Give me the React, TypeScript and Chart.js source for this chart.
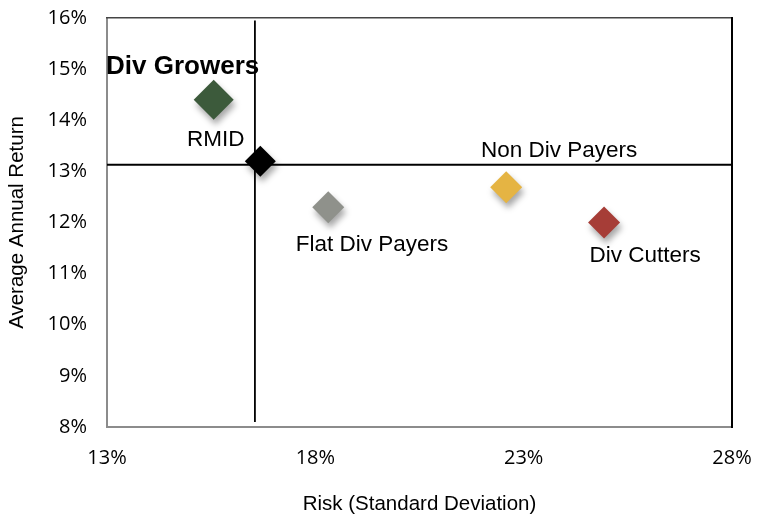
import React, { useEffect, useRef } from "react";
import { Chart, registerables } from "chart.js";

Chart.register(...registerables);

// ---- data ----
const names = ["Div Growers", "RMID", "Flat Div Payers", "Non Div Payers", "Div Cutters"];
const risk = [15.56, 16.68, 18.31, 22.58, 24.93];
const ret = [14.4, 13.2, 12.3, 12.69, 12.0];
const colors = ["#3c5a3b", "#000000", "#8f918b", "#e5b443", "#a63d37"];
const radii = [20, 15.5, 16, 16, 16];

// reference lines (RMID averages)
const vLineX = [16.55, 16.55];
const vLineY = [8.1, 15.95];
const hLineX = [13, 28];
const hLineY = [13.13, 13.13];

const xTicks = [13, 18, 23, 28];
const yTicks = [8, 9, 10, 11, 12, 13, 14, 15, 16];

// label styling (offsets relative to each point, text baseline)
const labelOffsets = [
  [-31, -26],
  [-44.5, -15],
  [43.7, 44],
  [53, -30],
  [41, 39],
];
const labelBold = [true, false, false, false, false];

const shadowPlugin = {
  id: "pointShadow",
  beforeDatasetDraw(chart: any, args: any) {
    if (args.index !== 0) return;
    const ctx = chart.ctx;
    ctx.save();
    ctx.shadowColor = "rgba(0,0,0,0.35)";
    ctx.shadowBlur = 6;
    ctx.shadowOffsetX = 2;
    ctx.shadowOffsetY = 5;
  },
  afterDatasetDraw(chart: any, args: any) {
    if (args.index !== 0) return;
    chart.ctx.restore();
  },
};

const labelPlugin = {
  id: "pointLabels",
  afterDatasetsDraw(chart: any) {
    const meta = chart.getDatasetMeta(0);
    const ctx = chart.ctx;
    ctx.save();
    ctx.fillStyle = "#000";
    ctx.textAlign = "center";
    ctx.textBaseline = "alphabetic";
    meta.data.forEach((el: any, i: number) => {
      ctx.font = labelBold[i]
        ? "bold 26px 'Liberation Sans', Arial, sans-serif"
        : "22.5px 'Liberation Sans', Arial, sans-serif";
      ctx.fillText(names[i], el.x + labelOffsets[i][0], el.y + labelOffsets[i][1]);
    });
    ctx.restore();
  },
};

export default function App() {
  const ref = useRef<HTMLCanvasElement | null>(null);
  useEffect(() => {
    document.body.style.margin = "0";
    const canvas = ref.current!;
    const tickFont = { family: "'Open Sans', sans-serif", size: 20 };
    const titleFont = { family: "'Liberation Sans', Arial, sans-serif", size: 20.5 };
    const chart = new Chart(canvas, {
      type: "scatter",
      data: {
        datasets: [
          {
            label: "points",
            data: risk.map((x, i) => ({ x, y: ret[i] })),
            backgroundColor: colors,
            borderColor: colors,
            borderWidth: 0,
            pointStyle: "rectRot",
            pointRadius: radii,
            pointHoverRadius: radii,
            order: 0,
            clip: false,
          } as any,
          {
            label: "vline",
            data: vLineX.map((x, i) => ({ x, y: vLineY[i] })),
            showLine: true,
            borderColor: "#000",
            borderWidth: 1.8,
            pointRadius: 0,
            order: 1,
          },
          {
            label: "hline",
            data: hLineX.map((x, i) => ({ x, y: hLineY[i] })),
            showLine: true,
            borderColor: "#000",
            borderWidth: 1.8,
            pointRadius: 0,
            order: 1,
          },
        ],
      },
      options: {
        responsive: false,
        animation: false,
        layout: { padding: 0, autoPadding: false },
        plugins: {
          legend: { display: false },
          tooltip: { enabled: false },
          title: { display: false },
        },
        scales: {
          x: {
            type: "linear",
            position: "bottom",
            min: 13,
            max: 28,
            afterBuildTicks: (s: any) => {
              s.ticks = xTicks.map((v) => ({ value: v }));
            },
            afterFit: (s: any) => {
              s.height = 99;
              s.paddingLeft = 0;
              s.paddingRight = 0;
            },
            ticks: {
              font: tickFont,
              color: "#000",
              padding: 19,
              callback: (v: any) => v + "%",
            },
            grid: { display: false, drawTicks: false },
            border: { display: true, color: "#8c8c8c", width: 2 },
            title: {
              display: true,
              text: "Risk (Standard Deviation)",
              font: titleFont,
              color: "#000",
              padding: { top: 0, bottom: 9 },
            },
          },
          y: {
            type: "linear",
            position: "left",
            min: 8,
            max: 16,
            afterBuildTicks: (s: any) => {
              s.ticks = yTicks.map((v) => ({ value: v }));
            },
            afterFit: (s: any) => {
              s.width = 107;
              s.paddingTop = 0;
              s.paddingBottom = 0;
            },
            ticks: {
              font: tickFont,
              color: "#000",
              padding: 20,
              callback: (v: any) => v + "%",
            },
            grid: { display: false, drawTicks: false },
            border: { display: true, color: "#8c8c8c", width: 2 },
            title: {
              display: true,
              text: "Average Annual Return",
              font: titleFont,
              color: "#000",
              padding: { top: 5, bottom: 0 },
            },
          },
          xTop: {
            type: "linear",
            position: "top",
            min: 13,
            max: 28,
            afterFit: (s: any) => {
              s.height = 18;
              s.paddingLeft = 0;
              s.paddingRight = 0;
            },
            ticks: { display: false },
            grid: { display: false, drawTicks: false },
            border: { display: true, color: "#444", width: 1.5 },
          },
          yRight: {
            type: "linear",
            position: "right",
            min: 8,
            max: 16,
            afterFit: (s: any) => {
              s.width = 26;
              s.paddingTop = 0;
              s.paddingBottom = 0;
            },
            ticks: { display: false },
            grid: { display: false, drawTicks: false },
            border: { display: true, color: "#000", width: 2 },
          },
        } as any,
      },
      plugins: [shadowPlugin, labelPlugin],
    });
    return () => chart.destroy();
  }, []);
  return (
    <canvas
      ref={ref}
      width={758}
      height={526}
      style={{ display: "block", width: 758, height: 526 }}
    />
  );
}
